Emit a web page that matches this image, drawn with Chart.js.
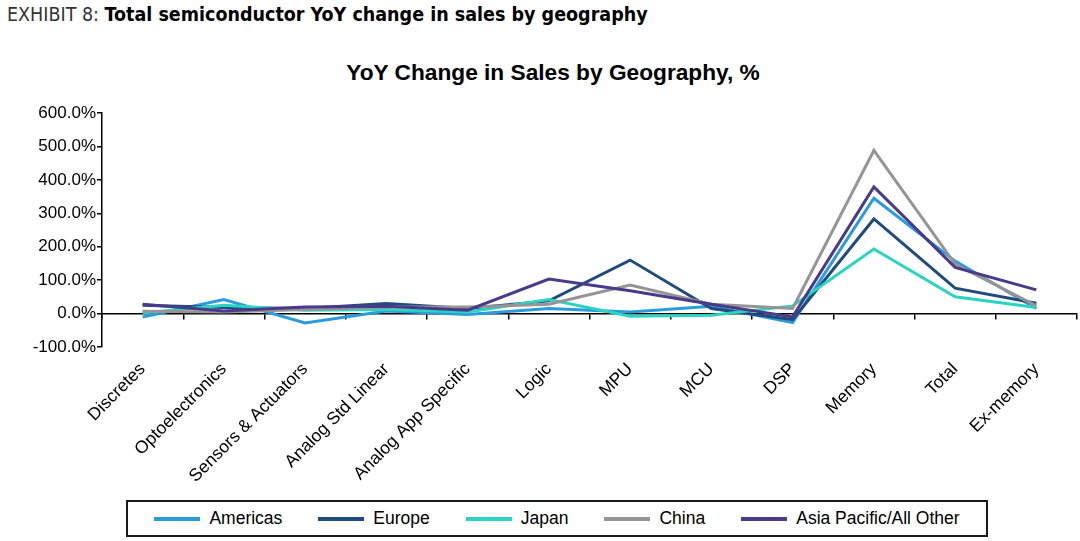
<!DOCTYPE html>
<html>
<head>
<meta charset="utf-8">
<script src="https://cdn.jsdelivr.net/npm/chart.js@4.4.1/dist/chart.umd.min.js"></script>
<style>
  html, body { margin: 0; padding: 0; background: #fff; }
  body { width: 1080px; height: 541px; position: relative; overflow: hidden; font-family: "Liberation Sans", Arial, sans-serif; }
  #header { position: absolute; left: 7px; top: 3px; font-family: "Liberation Sans Narrow", "DejaVu Sans Condensed", sans-serif; font-size: 19.5px; color: #333; white-space: nowrap; }
  #header b { color: #000; }
  #title { position: absolute; left: 0; width: 1106px; top: 59px; text-align: center; font-weight: bold; font-size: 22.7px; color: #000; }
  #wrap { position: absolute; left: 0; top: 0; width: 1080px; height: 490px; }
  #legend { position: absolute; left: 126px; top: 500px; width: 858px; height: 33px; border: 2px solid #1a1a1a; display: flex; justify-content: center; align-items: center; gap: 36px; font-size: 17.5px; color: #000; }
  .item { display: flex; align-items: center; }
  .swatch { width: 46px; height: 4px; margin-right: 9px; }
</style>
</head>
<body>
<div id="header">EXHIBIT 8: <b>Total semiconductor YoY change in sales by geography</b></div>
<div id="title">YoY Change in Sales by Geography, %</div>
<div id="wrap"><canvas id="chart"></canvas></div>
<div id="legend"></div>
<script>
// Categories along the x axis
const categories = ['Discretes', 'Optoelectronics', 'Sensors & Actuators', 'Analog Std Linear',
  'Analog App Specific', 'Logic', 'MPU', 'MCU', 'DSP', 'Memory', 'Total', 'Ex-memory'];

// YoY change in sales, %
const americas = [-10, 42, -28, 8, -3, 15, 5, 22, -27, 345, 157, 15];
const europe = [25, 18, 15, 30, 15, 38, 160, 15, -18, 283, 76, 31];
const japan = [2, 25, 10, 12, 5, 42, -8, -5, 23, 193, 50, 18];
const china = [7, 5, 12, 20, 20, 28, 85, 28, 15, 488, 148, 23];
const asiaPacific = [28, 8, 20, 22, 10, 103, 68, 28, -10, 379, 138, 71];

const seriesNames = ['Americas', 'Europe', 'Japan', 'China', 'Asia Pacific/All Other'];
const seriesValues = [americas, europe, japan, china, asiaPacific];
const seriesColors = ['#2a9cdc', '#1f4c7d', '#2bd3c1', '#959595', '#4a3a8a'];

// y axis range
const yMin = -100;
const yMax = 600;
const yStep = 100;

const datasets = seriesNames.map((name, i) => ({
  label: name,
  data: seriesValues[i],
  borderColor: seriesColors[i],
  backgroundColor: seriesColors[i],
  borderWidth: 3,
  pointRadius: 0,
  tension: 0,
  fill: false,
  order: seriesNames.length - i   // later series drawn on top, like the original
}));

// Legend built from the same series lists
const legend = document.getElementById('legend');
seriesNames.forEach((name, i) => {
  const item = document.createElement('div');
  item.className = 'item';
  item.innerHTML = '<span class="swatch" style="background:' + seriesColors[i] + '"></span>' + name;
  legend.appendChild(item);
});

new Chart(document.getElementById('chart').getContext('2d'), {
  type: 'line',
  data: { labels: categories, datasets: datasets },
  options: {
    responsive: true,
    maintainAspectRatio: false,
    animation: false,
    layout: { padding: { top: 113, right: 3, left: 0, bottom: 0 } },
    plugins: {
      legend: { display: false },
      tooltip: { enabled: false }
    },
    scales: {
      // axis line crossing at zero, tick marks only
      x: {
        type: 'category',
        position: { y: 0 },
        offset: true,
        grid: { display: true, drawOnChartArea: false, drawTicks: true, tickLength: 5, offset: true, color: '#000', tickColor: '#000', lineWidth: 1.5 },
        border: { display: true, color: '#000', width: 1.5 },
        ticks: { display: false }
      },
      // category labels below the plot
      x2: {
        type: 'category',
        labels: categories,
        position: 'bottom',
        offset: true,
        grid: { display: false, drawTicks: false },
        border: { display: false },
        ticks: {
          autoSkip: false,
          maxRotation: 45,
          minRotation: 45,
          padding: 12,
          color: '#000',
          font: { family: 'Liberation Sans, Arial, sans-serif', size: 17.5 }
        },
        afterFit: function(scale) { scale.height = 143; }
      },
      y: {
        min: yMin,
        max: yMax,
        grid: { display: true, drawOnChartArea: false, drawTicks: true, tickLength: 5, color: '#000', tickColor: '#000', lineWidth: 1.5 },
        border: { display: true, color: '#000', width: 1.5 },
        ticks: {
          stepSize: yStep,
          padding: 1,
          color: '#000',
          font: { family: 'Liberation Sans, Arial, sans-serif', size: 17 },
          callback: v => v.toFixed(1) + '%'
        },
        afterFit: function(scale) { scale.width = 102; }
      }
    }
  }
});
</script>
</body>
</html>
